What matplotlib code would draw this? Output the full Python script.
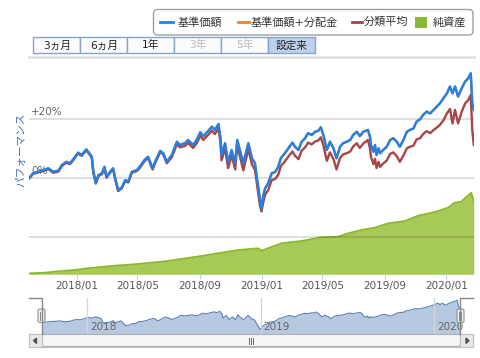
import numpy as np
import pandas as pd
import matplotlib
matplotlib.use('Agg')
import matplotlib.pyplot as plt
import matplotlib.dates as mdates
from matplotlib.patches import Rectangle, FancyBboxPatch

plt.rcParams['font.family'] = ['DejaVu Sans', 'Noto Sans CJK JP']

# performance (%) since inception
perf_dates = [
    '2017-09-29', '2017-10-07', '2017-10-17', '2017-10-27', '2017-11-06', '2017-11-16', '2017-11-26', '2017-12-03', '2017-12-12', '2017-12-19', '2017-12-25',
    '2018-01-04', '2018-01-11', '2018-01-20', '2018-01-26', '2018-01-31', '2018-02-03', '2018-02-08', '2018-02-13', '2018-02-20', '2018-02-25',
    '2018-03-01', '2018-03-08', '2018-03-14', '2018-03-19', '2018-03-24', '2018-03-31', '2018-04-07', '2018-04-13', '2018-04-20', '2018-04-30',
    '2018-05-06', '2018-05-15', '2018-05-22', '2018-05-31', '2018-06-05', '2018-06-15', '2018-06-21', '2018-06-28', '2018-07-08', '2018-07-18',
    '2018-07-24', '2018-08-03', '2018-08-09', '2018-08-19', '2018-08-26', '2018-09-02', '2018-09-08', '2018-09-18', '2018-09-25', '2018-10-01',
    '2018-10-08', '2018-10-12', '2018-10-14', '2018-10-21', '2018-10-27', '2018-11-03', '2018-11-10', '2018-11-14', '2018-11-20', '2018-11-26',
    '2018-12-06', '2018-12-13', '2018-12-19', '2018-12-24', '2018-12-29', '2019-01-01', '2019-01-04', '2019-01-08', '2019-01-14', '2019-01-21',
    '2019-01-28', '2019-02-03', '2019-02-08', '2019-02-16', '2019-02-23', '2019-03-03', '2019-03-08', '2019-03-15', '2019-03-21', '2019-03-28',
    '2019-04-03', '2019-04-10', '2019-04-17', '2019-04-23', '2019-04-28', '2019-05-03', '2019-05-10', '2019-05-16', '2019-05-23', '2019-05-29',
    '2019-06-05', '2019-06-11', '2019-06-18', '2019-06-25', '2019-07-01', '2019-07-08', '2019-07-14', '2019-07-21', '2019-07-30', '2019-08-03',
    '2019-08-05', '2019-08-10', '2019-08-13', '2019-08-16', '2019-08-20', '2019-08-23', '2019-08-29', '2019-09-05', '2019-09-12', '2019-09-18',
    '2019-09-25', '2019-10-01', '2019-10-08', '2019-10-15', '2019-10-21', '2019-10-28', '2019-11-03', '2019-11-10', '2019-11-16', '2019-11-23',
    '2019-11-30', '2019-12-06', '2019-12-13', '2019-12-19', '2019-12-26', '2020-01-02', '2020-01-08', '2020-01-13', '2020-01-18', '2020-01-24',
    '2020-01-31', '2020-02-07', '2020-02-13', '2020-02-18', '2020-02-21', '2020-02-24']

base_price = [
    0.0, 1.7, 2.2, 2.8, 3.4, 2.2, 2.6, 4.5, 5.6, 5.1, 6.4,
    8.7, 7.9, 9.8, 8.5, 7.3, 2.2, -1.5, 1.1, 1.7, 3.9,
    0.5, 2.2, 3.4, -0.6, -4.0, -3.1, -0.6, -1.1, 2.2, 2.8,
    4.0, 6.2, 7.3, 3.4, 5.6, 9.3, 8.5, 5.6, 7.9, 12.4,
    11.3, 11.9, 13.0, 11.3, 13.0, 15.6, 14.3, 16.1, 17.5, 16.4,
    18.4, 13.6, 7.9, 11.9, 5.6, 9.6, 5.1, 13.0, 9.0, 5.1,
    11.9, 6.8, 5.1, -1.1, -7.4, -10.2, -6.2, -3.4, -1.7, 1.7,
    2.2, 3.9, 6.8, 8.5, 10.2, 12.1, 10.7, 9.6, 12.4, 13.6,
    15.3, 14.7, 15.8, 16.1, 17.3, 14.7, 9.6, 12.4, 10.2, 6.8,
    10.7, 11.9, 12.4, 13.0, 14.7, 15.8, 14.3, 15.8, 16.4, 14.1,
    11.3, 9.0, 11.3, 7.9, 10.2, 8.5, 9.6, 10.7, 13.0, 13.6,
    12.4, 10.7, 13.0, 15.8, 16.4, 16.9, 19.2, 20.0, 21.5, 22.6,
    22.0, 23.1, 24.3, 25.4, 27.1, 28.8, 31.1, 28.8, 31.1, 27.7,
    30.5, 32.8, 33.9, 35.6, 25.4, 23.2]

# no distributions paid, so 基準価額+分配金 matches 基準価額
base_price_div = list(base_price)

category_avg = [
    0.0, 1.5, 2.0, 2.5, 3.1, 1.9, 2.3, 4.2, 5.3, 4.8, 6.1,
    8.4, 7.6, 9.5, 8.2, 7.0, 1.9, -1.8, 0.8, 1.4, 3.6,
    0.2, 1.9, 3.1, -0.9, -4.3, -3.4, -0.9, -1.4, 1.9, 2.5,
    3.6, 5.8, 6.9, 3.0, 5.2, 8.9, 8.1, 5.1, 7.2, 11.6,
    10.5, 11.0, 12.0, 10.3, 11.9, 14.4, 13.0, 14.8, 16.2, 15.0,
    16.9, 12.0, 6.1, 10.1, 3.5, 7.7, 3.0, 11.1, 7.0, 2.7,
    9.9, 4.7, 2.9, -3.2, -9.3, -11.2, -8.4, -5.6, -4.0, -0.6,
    -0.2, 1.2, 4.1, 5.7, 7.4, 9.1, 7.7, 6.5, 9.3, 10.5,
    12.1, 11.5, 12.5, 12.8, 13.9, 11.2, 5.9, 8.8, 6.5, 3.0,
    6.9, 8.1, 8.5, 9.1, 10.8, 11.9, 10.3, 11.8, 13.0, 10.2,
    7.3, 4.8, 6.6, 3.5, 5.6, 3.9, 5.0, 6.0, 8.3, 8.8,
    7.5, 5.6, 7.7, 10.2, 10.7, 11.1, 13.2, 13.6, 15.0, 16.0,
    15.3, 16.3, 17.2, 18.1, 19.6, 22.0, 23.5, 18.6, 23.2, 18.6,
    22.5, 25.4, 26.5, 28.2, 16.4, 11.3]

# net assets (億円)
asset_dates = [
    '2017-09-29', '2017-10-30', '2017-12-02', '2017-12-28', '2018-01-23', '2018-03-10', '2018-05-02',
    '2018-06-30', '2018-09-04', '2018-10-14', '2018-11-16', '2018-12-25', '2019-01-01', '2019-02-09',
    '2019-03-21', '2019-04-29', '2019-06-01', '2019-06-21', '2019-07-17', '2019-08-12', '2019-09-08',
    '2019-10-11', '2019-11-06', '2019-12-09', '2020-01-04', '2020-01-17', '2020-01-30', '2020-02-19',
    '2020-02-24']
net_assets = [
    1.0, 1.6, 3.3, 4.3, 6.0, 8.3, 10.3,
    13.3, 18.3, 21.6, 24.3, 26.0, 23.6, 31.0,
    33.3, 37.0, 37.6, 41.0, 44.3, 46.6, 51.0,
    53.3, 58.6, 62.3, 66.6, 71.6, 72.6, 81.6,
    72.6]

xtick_dates = ['2018-01-01', '2018-05-01', '2018-09-01', '2019-01-01', '2019-05-01', '2019-09-01', '2020-01-01']
nav_years = ['2018', '2019', '2020']
buttons = ['3ヵ月', '6ヵ月', '1年', '3年', '5年', '設定来']
series_names = ['基準価額', '基準価額+分配金', '分類平均', '純資産']

BLUE = '#1f82ea'
ORANGE = '#f28229'
RED = '#a84545'
GREEN = '#a7c957'

W, H = 481, 358


def rect(x0, y0, x1, y1):
    return [x0 / W, 1 - y1 / H, (x1 - x0) / W, (y1 - y0) / H]


pdates = pd.to_datetime(perf_dates)
adates = pd.to_datetime(asset_dates)
start, end = pd.Timestamp('2017-09-29'), pd.Timestamp('2020-02-25')

fig = plt.figure(figsize=(W / 100, H / 100), dpi=100)

# net assets underneath
ax_na = fig.add_axes(rect(29, 57.3, 474.3, 274.3))
ax_na.fill_between(adates, net_assets, 0, color=GREEN, lw=0)
ax_na.plot(adates, net_assets, color='#8ab82c', lw=1.3)
ax_na.set_xlim(start, end)
ax_na.set_ylim(0, 217)
ax_na.axis('off')

# performance lines
ax = fig.add_axes(rect(29, 57.3, 474.3, 274.3))
ax.patch.set_alpha(0)
for v in [-20, 0, 20]:
    ax.axhline(v, color='black', alpha=0.15, lw=1.2, zorder=0)
ax.axhline(41.0, color='#e2e2e2', lw=2, zorder=0, clip_on=False)
ax.annotate('+20%', xy=(0, 20), xycoords=('axes fraction', 'data'), xytext=(2, 2),
            textcoords='offset pixels', fontsize=7.5, color='#666', va='bottom', zorder=1)
ax.annotate('0%', xy=(0, 0), xycoords=('axes fraction', 'data'), xytext=(2, 2),
            textcoords='offset pixels', fontsize=7.5, color='#666', va='bottom', zorder=1)
ax.plot(pdates, base_price_div, color=ORANGE, lw=1.7, zorder=2)
ax.plot(pdates, category_avg, color=RED, lw=1.7, zorder=3)
ax.plot(pdates, base_price, color=BLUE, lw=1.7, zorder=4)
ax.set_xlim(start, end)
ax.set_ylim(-32.5, 41.0)
ax.set_yticks([])
ax.set_xticks(pd.to_datetime(xtick_dates))
ax.xaxis.set_major_formatter(mdates.DateFormatter('%Y/%m'))
ax.tick_params(axis='x', length=3.6, width=0.8, color='#c0d0e0', labelsize=7.5,
               labelcolor='#555', pad=1)
for s in ax.spines.values():
    s.set_visible(False)

fig.text(21 / W, 1 - 150 / H, 'パフォーマンス', rotation=90, ha='center', va='center',
         fontsize=7.7, color='#3d6fb0')

# navigator
nav = fig.add_axes(rect(42, 298.3, 460.5, 334))
nav.fill_between(pdates, base_price, -17, color='#b7c9e1', lw=0)
nav.plot(pdates, base_price, color='#5a82b8', lw=0.8)
for y in nav_years:
    d = pd.Timestamp(y + '-01-01')
    nav.axvline(d, color='#d4d4d4', lw=0.9)
    nav.annotate(y, xy=(d, 0), xycoords=('data', 'axes fraction'), xytext=(3, 2),
                 textcoords='offset pixels', fontsize=7.5, color='#666', va='bottom')
nav.set_xlim(start, end)
nav.set_ylim(-17, 38.7)
nav.axis('off')

# overlay for legend, range buttons, navigator handles, scrollbar
ui = fig.add_axes([0, 0, 1, 1], zorder=10)
ui.set_xlim(0, W)
ui.set_ylim(H, 0)
ui.axis('off')

ui.add_patch(FancyBboxPatch((153.5, 9.5), 319.5, 25.5, boxstyle='round,pad=0,rounding_size=4',
                            fc='white', ec='#a0a0a0', lw=1))
ui.plot([160, 173], [22, 22], color=BLUE, lw=2)
ui.text(178, 22, series_names[0], va='center', fontsize=8, color='#333')
ui.plot([238, 249], [22, 22], color=ORANGE, lw=2)
ui.text(251, 22, series_names[1], va='center', fontsize=8, color='#333')
ui.plot([352, 362], [22, 22], color=RED, lw=2)
ui.text(364, 22, series_names[2], va='center', fontsize=8, color='#333')
ui.add_patch(Rectangle((415, 16.5), 12, 11, fc='#8ab934', ec='none'))
ui.text(433, 22, series_names[3], va='center', fontsize=8, color='#333')

for i, b in enumerate(buttons):
    x0 = 33.3 + i * 47
    sel = i == len(buttons) - 1
    ui.add_patch(Rectangle((x0, 37.3), 47, 15.7, fc='#bcd2ec' if sel else '#fbfbfb',
                           ec='#88a4c8', lw=1))
    ui.text(x0 + 23.5, 45.3, b, ha='center', va='center', fontsize=7.7,
            color='#bbbbbb' if b in ('3年', '5年') else '#222')

# navigator outline and handles
ui.plot([29, 42, 42], [298.3, 298.3, 334], color='#888', lw=1)
ui.plot([460.5, 460.5, 473], [334, 298.3, 298.3], color='#888', lw=1)
for hx in (41.5, 460.5):
    ui.add_patch(FancyBboxPatch((hx - 3.5, 309), 7, 13.5, boxstyle='round,pad=0,rounding_size=2',
                                fc='#f2f2f2', ec='#999', lw=0.9))
    ui.plot([hx - 1, hx - 1], [312, 319.5], color='#888', lw=0.7)
    ui.plot([hx + 1, hx + 1], [312, 319.5], color='#888', lw=0.7)

# scrollbar
ui.add_patch(Rectangle((29, 334), 444, 13, fc='#eeeeee', ec='#c0c0c0', lw=0.8))
ui.add_patch(FancyBboxPatch((42, 334.5), 418.5, 12, boxstyle='round,pad=0,rounding_size=2',
                            fc='#f5f5f5', ec='#b0b0b0', lw=0.8))
ui.add_patch(Rectangle((29, 334), 13, 13, fc='#e8e8e8', ec='#c0c0c0', lw=0.8))
ui.add_patch(Rectangle((460.5, 334), 12.5, 13, fc='#e8e8e8', ec='#c0c0c0', lw=0.8))
ui.fill([36.5, 36.5, 33.5], [338, 343.5, 340.7], color='#555')
ui.fill([466, 466, 469], [338, 343.5, 340.7], color='#555')
for gx in (249.5, 251.5, 253.5):
    ui.plot([gx, gx], [338, 343.5], color='#666', lw=0.7)

fig.savefig('out.png', dpi=100)
